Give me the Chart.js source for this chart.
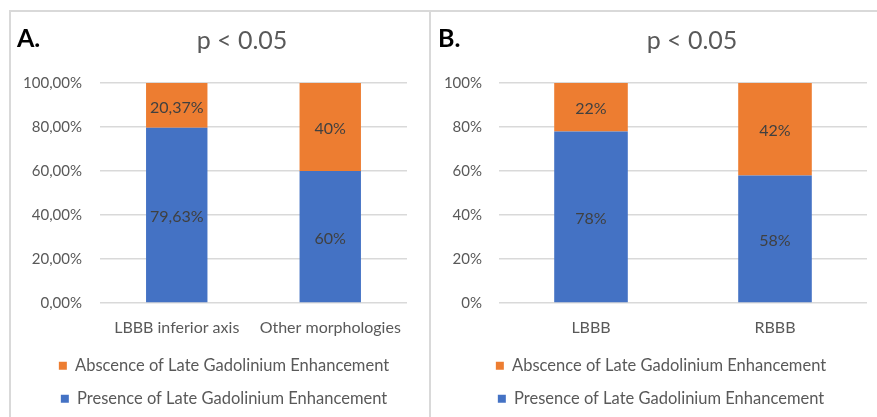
<!DOCTYPE html>
<html>
<head>
<meta charset="utf-8">
<script src="https://cdn.jsdelivr.net/npm/chart.js@4"></script>
<style>
    body { margin: 0; background: #fff; width: 877px; height: 417px; overflow: hidden; position: relative; font-family: Lato, sans-serif; }
    .frame { position: absolute; top: 10px; height: 420px; border-top: 2px solid #d9d9d9; }
    #panel-a { left: 9px; width: 418px; border-left: 2px solid #d9d9d9; border-right: 2px solid #d9d9d9; }
    #panel-b { left: 431px; width: 460px; }
    canvas { position: absolute; top: 0; left: 0; }
</style>
</head>
<body>
<div class="frame" id="panel-a"><canvas id="chart-a" width="418" height="405"></canvas></div>
<div class="frame" id="panel-b"><canvas id="chart-b" width="452" height="405"></canvas></div>
<script>
// data
const categoriesA = ['LBBB inferior axis', 'Other morphologies'];
const presenceA = [79.63, 60];
const absenceA = [20.37, 40];

const categoriesB = ['LBBB', 'RBBB'];
const presenceB = [78, 58];
const absenceB = [22, 42];

const yTicks = [0, 20, 40, 60, 80, 100];

const colors = {
    presence: '#4472c4',
    absence: '#ed7d31'
}

function pct(v) {
    return Number.isInteger(v) ? v + '%' : v.toFixed(2).replace('.', ',') + '%'
}

// headings ("A." and "p < 0.05") drawn on the canvas
const headings = {
    id: 'headings',
    afterDraw(chart, args, opts) {
        const ctx = chart.ctx;
        ctx.save();
        ctx.textBaseline = 'middle';
        ctx.textAlign = 'left';
        ctx.fillStyle = '#000';
        ctx.font = 'bold 25px Lato';
        ctx.fillText(opts.letter, opts.letterX, 27);
        ctx.textAlign = 'center';
        ctx.fillStyle = '#595959';
        ctx.font = '25px Lato';
        ctx.fillText('p < 0.05', opts.titleX, 29);
        ctx.restore();
    }
}

// value labels in the middle of each bar segment
const barLabels = {
    id: 'barLabels',
    afterDatasetsDraw(chart) {
        const ctx = chart.ctx;
        ctx.save();
        ctx.font = '16px Lato';
        ctx.fillStyle = '#404040';
        ctx.textAlign = 'center';
        ctx.textBaseline = 'middle';
        chart.data.datasets.forEach((ds, i) => {
            chart.getDatasetMeta(i).data.forEach((bar, j) => {
                const c = bar.getCenterPoint();
                ctx.fillText(pct(ds.data[j]), c.x, c.y + 2);
            })
        })
        ctx.restore();
    }
}

function makeChart(canvas, categories, presence, absence, tickFmt, cfg) {
    return new Chart(canvas.getContext('2d'), {
        type: 'bar',
        data: {
            labels: categories,
            datasets: [{
                label: 'Presence of Late Gadolinium Enhancement',
                data: presence,
                backgroundColor: colors.presence,
                borderWidth: 0
            }, {
                label: 'Abscence of Late Gadolinium Enhancement',
                data: absence,
                backgroundColor: colors.absence,
                borderWidth: 0
            }]
        },
        options: {
            responsive: false,
            animation: false,
            categoryPercentage: 0.8,
            barPercentage: 0.5,
            layout: { padding: { top: 71, right: 0, bottom: 0, left: cfg.padLeft } },
            scales: {
                x: {
                    stacked: true,
                    grid: { display: false, drawTicks: false },
                    border: { display: false },
                    ticks: { color: '#595959', font: { family: 'Lato', size: 16 }, padding: 15 },
                    afterFit(scale) { scale.height = 38 }
                },
                y: {
                    stacked: true,
                    min: 0,
                    max: 100,
                    afterBuildTicks(scale) { scale.ticks = yTicks.map(v => ({ value: v })) },
                    grid: { color: '#d9d9d9', lineWidth: 1.5, drawTicks: false },
                    border: { display: false },
                    ticks: {
                        color: '#595959',
                        font: { family: 'Lato', size: 15 },
                        padding: cfg.tickPad,
                        callback: tickFmt
                    },
                    afterFit(scale) { scale.width = cfg.axisWidth }
                },
                // empty right-hand box, keeps the plot off the right edge without moving the legend
                spacer: {
                    type: 'linear',
                    position: 'right',
                    grid: { display: false, drawTicks: false },
                    border: { display: false },
                    ticks: { display: false },
                    afterFit(scale) { scale.width = cfg.padRight }
                }
            },
            plugins: {
                legend: {
                    position: 'bottom',
                    reverse: true,
                    labels: {
                        boxWidth: 8,
                        boxHeight: 8,
                        padding: 16.5,
                        color: '#595959',
                        font: { family: 'Lato', size: 16.5 }
                    }
                },
                tooltip: { enabled: false },
                headings: { letter: cfg.letter, letterX: cfg.letterX, titleX: cfg.titleX }
            }
        },
        plugins: [headings, barLabels]
    });
}

makeChart(document.querySelector('#chart-a'), categoriesA, presenceA, absenceA,
    v => v.toFixed(2).replace('.', ',') + '%',
    { padLeft: 8, padRight: 22, axisWidth: 81, tickPad: 18, letter: 'A.', letterX: 6, titleX: 231 });

// canvas B runs a little past the window edge, as the panel does in the picture
makeChart(document.querySelector('#chart-b'), categoriesB, presenceB, absenceB,
    v => v + '%',
    { padLeft: 8, padRight: 16, axisWidth: 60, tickPad: 17, letter: 'B.', letterX: 7, titleX: 261 });
</script>
</body>
</html>
